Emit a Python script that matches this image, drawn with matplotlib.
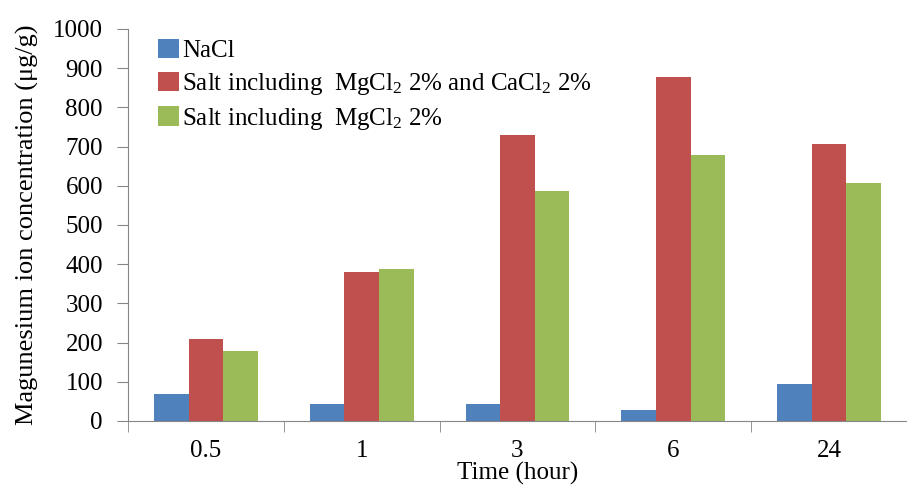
import numpy as np
import matplotlib
matplotlib.use("Agg")
import matplotlib.pyplot as plt

plt.rcParams['font.family'] = ['Liberation Serif', 'DejaVu Serif']
plt.rcParams['mathtext.fontset'] = 'custom'
plt.rcParams['mathtext.rm'] = 'Liberation Serif'
plt.rcParams['mathtext.it'] = 'Liberation Serif:italic'

times = ['0.5', '1', '3', '6', '24']
nacl = [68, 44, 44, 29, 94]
mg_ca = [209, 379, 730, 878, 707]
mg = [179, 387, 587, 679, 606]
labels = ['NaCl',
          'Salt including  MgCl$_2$ 2% and CaCl$_2$ 2%',
          'Salt including  MgCl$_2$ 2%']
colors = ['#4F81BD', '#C0504D', '#9BBB59']

fig = plt.figure(figsize=(9.07, 4.90), dpi=100)
ax = fig.add_axes([0.141, 0.141, 0.859, 0.8])

x = np.arange(len(times))
w = 0.222
for i, (vals, lab, c) in enumerate(zip([nacl, mg_ca, mg], labels, colors)):
    ax.bar(x + (i - 1) * w, vals, w, color=c, label=lab)

ax.set_ylim(0, 1000)
ax.set_yticks(range(0, 1001, 100))
ax.set_xlim(-0.5, 4.46)
ax.set_xticks(x)
ax.set_xticklabels(times)
ax.set_xticks(np.arange(-0.5, 5, 1), minor=True)
ax.tick_params(axis='x', which='major', length=0, labelsize=18, pad=14)
ax.tick_params(axis='x', which='minor', length=8, direction='out', color='#868686')
ax.tick_params(axis='y', length=8, labelsize=18, color='#868686', pad=10)
ax.spines['top'].set_visible(False)
ax.spines['right'].set_visible(False)
ax.spines['left'].set_color('#868686')
ax.spines['bottom'].set_color('#868686')

ax.set_ylabel('Magunesium ion concentration (μg/g)', fontsize=19, labelpad=10)
ax.set_xlabel('Time (hour)', fontsize=18, labelpad=0)

ax.legend(loc='upper left', bbox_to_anchor=(0.026, 1.0), frameon=False,
          fontsize=18, handlelength=0.85, handleheight=0.8, handletextpad=0.1,
          labelspacing=0.35, borderaxespad=0)

fig.savefig('out.png', dpi=100)
